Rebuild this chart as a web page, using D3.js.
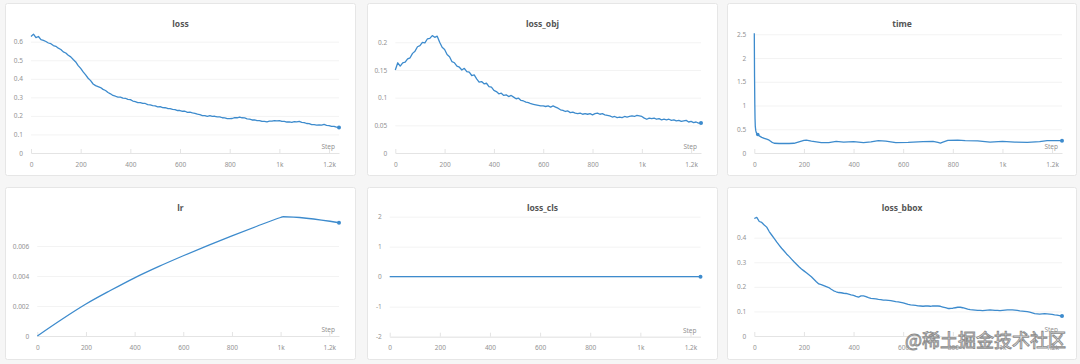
<!DOCTYPE html>
<html><head><meta charset="utf-8">
<script src="https://cdn.jsdelivr.net/npm/d3@7"></script>
<style>body{margin:0;background:#f6f6f6}svg{display:block}</style>
</head><body><svg id="c" width="1080" height="364"></svg>
<script>
// ---------- data ----------
const steps10 = [0,10,20,30,40,50,60,70,80,90,100,110,120,130,140,150,160,170,180,190,
 200,210,220,230,240,250,260,270,280,290,300,310,320,330,340,350,360,370,380,390,
 400,410,420,430,440,450,460,470,480,490,500,510,520,530,540,550,560,570,580,590,
 600,610,620,630,640,650,660,670,680,690,700,710,720,730,740,750,760,770,780,790,
 800,810,820,830,840,850,860,870,880,890,900,910,920,930,940,950,960,970,980,990,
 1000,1010,1020,1030,1040,1050,1060,1070,1080,1090,1100,1110,1120,1130,1140,1150,1160,1170,1180,1190,
 1200,1210,1220,1230,1240];

const lossValues = [
 0.628,0.641,0.622,0.628,0.611,0.607,0.601,0.593,0.589,0.579,
 0.575,0.565,0.558,0.545,0.539,0.527,0.518,0.504,0.491,0.471,
 0.456,0.437,0.421,0.403,0.390,0.372,0.363,0.358,0.353,0.343,
 0.337,0.326,0.319,0.310,0.306,0.301,0.301,0.296,0.295,0.289,
 0.288,0.280,0.277,0.272,0.272,0.267,0.267,0.261,0.259,0.255,
 0.254,0.249,0.250,0.245,0.244,0.240,0.239,0.235,0.234,0.229,
 0.229,0.225,0.225,0.219,0.220,0.216,0.214,0.209,0.207,0.202,
 0.202,0.198,0.201,0.197,0.198,0.195,0.195,0.190,0.189,0.185,
 0.185,0.186,0.191,0.190,0.194,0.190,0.189,0.184,0.183,0.178,
 0.179,0.175,0.175,0.170,0.171,0.168,0.172,0.172,0.175,0.173,
 0.174,0.170,0.171,0.167,0.168,0.165,0.169,0.168,0.170,0.165,
 0.164,0.159,0.158,0.153,0.153,0.150,0.151,0.150,0.154,0.149,
 0.148,0.144,0.144,0.139,0.137];

const lossObjValues = [
 0.150,0.163,0.157,0.163,0.164,0.170,0.172,0.180,0.184,0.192,
 0.194,0.200,0.199,0.206,0.207,0.212,0.209,0.211,0.200,0.191,
 0.187,0.178,0.174,0.165,0.163,0.157,0.155,0.150,0.153,0.147,
 0.146,0.140,0.141,0.134,0.128,0.129,0.125,0.126,0.120,0.119,
 0.113,0.111,0.107,0.108,0.104,0.105,0.102,0.104,0.101,0.098,
 0.099,0.095,0.094,0.092,0.091,0.089,0.088,0.087,0.086,0.085,
 0.085,0.084,0.085,0.083,0.085,0.083,0.081,0.078,0.077,0.075,
 0.076,0.073,0.074,0.072,0.071,0.072,0.070,0.071,0.070,0.071,
 0.069,0.071,0.072,0.070,0.071,0.069,0.068,0.067,0.065,0.066,
 0.064,0.065,0.064,0.066,0.065,0.066,0.067,0.066,0.068,0.067,
 0.066,0.063,0.061,0.063,0.062,0.063,0.061,0.062,0.060,0.061,
 0.060,0.061,0.059,0.060,0.058,0.059,0.057,0.058,0.059,0.056,
 0.057,0.055,0.056,0.054,0.054];

const lossBboxValues = [
 0.478,0.483,0.466,0.462,0.452,0.443,0.425,0.411,0.397,0.383,
 0.370,0.357,0.346,0.334,0.324,0.313,0.302,0.292,0.282,0.273,
 0.265,0.257,0.249,0.241,0.231,0.221,0.212,0.209,0.205,0.201,
 0.197,0.190,0.184,0.180,0.177,0.176,0.174,0.173,0.170,0.167,
 0.165,0.161,0.158,0.163,0.163,0.160,0.156,0.153,0.152,0.151,
 0.149,0.148,0.146,0.146,0.145,0.144,0.142,0.140,0.139,0.137,
 0.135,0.132,0.129,0.127,0.126,0.125,0.123,0.122,0.121,0.122,
 0.122,0.121,0.123,0.122,0.122,0.121,0.118,0.115,0.112,0.112,
 0.113,0.115,0.117,0.117,0.115,0.112,0.109,0.107,0.106,0.105,
 0.104,0.104,0.103,0.104,0.105,0.106,0.105,0.104,0.104,0.103,
 0.104,0.105,0.106,0.106,0.106,0.105,0.104,0.102,0.101,0.100,
 0.099,0.097,0.094,0.091,0.090,0.089,0.090,0.091,0.090,0.089,
 0.088,0.086,0.085,0.083,0.081];

const timeSteps = [0,1,2,3,4,6,8,10,14,20,30,40,50,60,70,80,100,120,140,160,
 180,200,210,230,250,270,300,330,360,400,440,470,500,530,570,620,680,720,740,750,
 760,780,820,850,900,950,1000,1050,1100,1150,1180,1240];
const timeValues = [2.52,1.60,1.05,0.72,0.56,0.47,0.43,0.41,0.39,0.36,0.33,0.31,0.29,0.27,0.23,0.205,0.2,0.2,0.2,0.205,
 0.235,0.265,0.27,0.25,0.235,0.22,0.22,0.245,0.23,0.24,0.22,0.235,0.26,0.25,0.22,0.225,0.24,0.245,0.225,0.21,
 0.23,0.265,0.27,0.26,0.255,0.23,0.245,0.23,0.225,0.24,0.26,0.26];
const timeMarkerStep = 14;

const lrSteps = [0,100,200,300,400,500,600,700,800,900,1000,1010,1240];
const lrValues = [0,0.00110,0.00213,0.00303,0.00388,0.00464,0.00535,0.00603,0.00668,0.00730,0.00790,0.00795,0.00755];

const clsSteps = [0,1240];
const clsValues = [0,0];

const xTickValues = [0,200,400,600,800,1000,1200];
const xTickLabels = ["0","200","400","600","800","1k","1.2k"];

const lossTicks = [0,0.1,0.2,0.3,0.4,0.5,0.6];
const lossTickLabels = ["0","0.1","0.2","0.3","0.4","0.5","0.6"];
const objTicks = [0,0.05,0.1,0.15,0.2];
const objTickLabels = ["0","0.05","0.1","0.15","0.2"];
const timeTicks = [0,0.5,1,1.5,2,2.5];
const timeTickLabels = ["0","0.5","1","1.5","2","2.5"];
const lrTicks = [0,0.002,0.004,0.006];
const lrTickLabels = ["0","0.002","0.004","0.006"];
const clsTicks = [-2,-1,0,1,2];
const clsTickLabels = ["-2","-1","0","1","2"];
const bboxTicks = [0,0.1,0.2,0.3,0.4];
const bboxTickLabels = ["0","0.1","0.2","0.3","0.4"];

const titles = ["loss","loss_obj","time","lr","loss_cls","loss_bbox"];
const xAxisName = "Step";
const watermark = "@稀土掘金技术社区";

// ---------- layout ----------
const panels = [
 {title:titles[0], xs:steps10, ys:lossValues, ticks:lossTicks, labels:lossTickLabels,
  card:[5,3,351,173], xr:[31,339], yd:[0,0.6], yr:[153,41.7], axisV:0},
 {title:titles[1], xs:steps10, ys:lossObjValues, ticks:objTicks, labels:objTickLabels,
  card:[367,3,351,173], xr:[395.3,701], yd:[0,0.2], yr:[153,42.3], axisV:0},
 {title:titles[2], xs:timeSteps, ys:timeValues, ticks:timeTicks, labels:timeTickLabels,
  card:[727,3,350,173], xr:[754.3,1062], yd:[0,2.5], yr:[153,34.3], axisV:0, marker:timeMarkerStep},
 {title:titles[3], xs:lrSteps, ys:lrValues, ticks:lrTicks, labels:lrTickLabels,
  card:[5,187,351,173], xr:[37.3,339], yd:[0,0.006], yr:[336,246], axisV:0, smooth:true},
 {title:titles[4], xs:clsSteps, ys:clsValues, ticks:clsTicks, labels:clsTickLabels,
  card:[367,187,351,173], xr:[389.7,700.5], yd:[-2,2], yr:[336.7,216.7], axisV:-2},
 {title:titles[5], xs:steps10, ys:lossBboxValues, ticks:bboxTicks, labels:bboxTickLabels,
  card:[727,187,350,173], xr:[754.3,1062], yd:[0,0.4], yr:[336,237.7], axisV:0}
];

const FONT = "'Noto Sans', 'DejaVu Sans', sans-serif";
const LINE = "#3d8bcd";
const LABEL = "#939393";
const svg = d3.select("#c");
svg.append("rect").attr("width",1080).attr("height",364).attr("fill","#f6f6f6");

panels.forEach(p => {
  const [cx,cy,cw,ch] = p.card;
  const g = svg.append("g");
  g.append("rect").attr("x",cx+0.5).attr("y",cy+0.5).attr("width",cw-1).attr("height",ch-1)
    .attr("rx",2).attr("fill","#fff").attr("stroke","#e6e6e6");

  const x = d3.scaleLinear().domain([0,1240]).range(p.xr);
  const y = d3.scaleLinear().domain(p.yd).range(p.yr);
  const w = p.xr[1]-p.xr[0];

  // y axis + grid
  const ya = g.append("g").attr("transform",`translate(${p.xr[0]},0)`).style("color",LABEL)
    .call(d3.axisLeft(y).tickValues(p.ticks).tickFormat((d,i)=>p.labels[i])
      .tickSizeInner(-w).tickSizeOuter(0).tickPadding(8));
  ya.select(".domain").remove();
  ya.selectAll(".tick line").attr("stroke","#f3f3f3");
  ya.selectAll(".tick text").attr("fill",LABEL).attr("font-size","6.5px").attr("font-family",FONT);

  // x axis
  const ax = y(p.axisV);
  const xa = g.append("g").attr("transform",`translate(0,${ax})`).style("color",LABEL)
    .call(d3.axisBottom(x).tickValues(xTickValues).tickFormat((d,i)=>xTickLabels[i])
      .tickSizeInner(-4).tickSizeOuter(0).tickPadding(9));
  xa.select(".domain").attr("stroke","#e4e4e4");
  xa.selectAll(".tick line").attr("stroke","#e4e4e4");
  xa.selectAll(".tick text").attr("fill",LABEL).attr("font-size","6.5px").attr("font-family",FONT);

  g.append("text").attr("x",p.xr[1]-4).attr("y",ax-4).attr("text-anchor","end")
    .attr("font-size","6.5px").attr("font-family",FONT).attr("fill",LABEL).text(xAxisName);

  // title
  g.append("text").attr("x",cx+cw/2).attr("y",cy+24).attr("text-anchor","middle")
    .attr("font-size","8.5px").attr("font-weight","bold").attr("font-family",FONT)
    .attr("fill","#555").text(p.title);

  // line
  const pts = p.xs.map((s,i)=>[s,p.ys[i]]);
  const lineGen = d3.line().x(d=>x(d[0])).y(d=>y(d[1]));
  if (p.smooth) lineGen.curve(d3.curveMonotoneX);
  g.append("path").datum(pts)
    .attr("d", lineGen)
    .attr("fill","none").attr("stroke",LINE).attr("stroke-width",1.3).attr("stroke-linejoin","round");
  const last = pts[pts.length-1];
  g.append("circle").attr("cx",x(last[0])).attr("cy",y(last[1])).attr("r",2).attr("fill",LINE);
  if (p.marker !== undefined) {
    const m = pts.find(d=>d[0]===p.marker);
    g.append("circle").attr("cx",x(m[0])).attr("cy",y(m[1])).attr("r",1.8).attr("fill",LINE);
  }
});

// watermark (overlays the bottom-right panel, as in the reference)
svg.append("text").attr("x",905).attr("y",347).attr("font-size","18px")
  .attr("font-family","'Noto Sans CJK SC', sans-serif")
  .attr("fill","rgba(255,255,255,0.85)").attr("stroke","#8c8c8c").attr("stroke-width",0.9)
  .text(watermark);
</script></body></html>
